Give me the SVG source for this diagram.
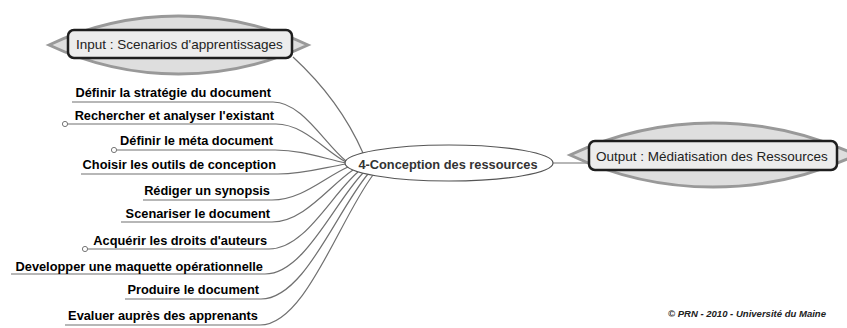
<svg xmlns="http://www.w3.org/2000/svg" width="847" height="328" viewBox="0 0 847 328">
<style>
.bg{fill:#ffffff}
.conn{fill:none;stroke:#707070;stroke-width:1.2}
.lens{fill:#dedede;stroke:#999;stroke-width:3}
.box{fill:#ececec;stroke:#1e1e1e;stroke-width:2.5}
.io{font-family:"Liberation Sans",Arial,sans-serif;font-size:13.5px;fill:#222}
.ctr{fill:#fff;stroke:#555;stroke-width:1.2}
.ctrt{font-family:"Liberation Sans",Arial,sans-serif;font-size:12.8px;font-weight:bold;fill:#333;text-anchor:middle}
.lbl{font-family:"Liberation Sans",Arial,sans-serif;font-size:12.8px;font-weight:bold;fill:#000;text-anchor:end}
.dot{fill:#fff;stroke:#777;stroke-width:1}
.copy{font-family:"Liberation Sans",Arial,sans-serif;font-size:8.5px;font-weight:bold;font-style:italic;fill:#222}
</style>
<rect class="bg" x="0" y="0" width="847" height="328"/>
<g id="connectors">
<path class="conn" d="M293,57 C318,80 345,112 363,153"/>
<path class="conn" d="M553,163 L592,163"/>
<path class="conn" d="M72,102 H273 C302,102 324,143 346,161"/>
<path class="conn" d="M65,124 H276 C304,124 325,151 346,162"/>
<path class="conn" d="M114,150 H275 C303,150 325,159 346,163"/>
<path class="conn" d="M81,174 H278 C305,174 326,167 346,164"/>
<path class="conn" d="M143,200 H272 C302,200 325,177 348,167"/>
<path class="conn" d="M121,222 H272 C304,222 329,186 353,170"/>
<path class="conn" d="M85,249 H269 C305,249 331,195 358,172"/>
<path class="conn" d="M11,274 H265 C304,274 334,203 363,173"/>
<path class="conn" d="M125,299 H261 C304,299 336,212 368,174"/>
<path class="conn" d="M65,325 H260 C305,325 339,220 373,175"/>
</g>
<g id="input">
<path class="lens" d="M49,45 A304,304 0 0 1 308,45 A304,304 0 0 1 49,45 Z"/>
<rect class="box" x="68" y="30" width="224" height="28" rx="6"/>
<text class="io" x="76" y="49">Input : Scenarios d'apprentissages</text>
</g>
<g id="output">
<path class="lens" d="M570,155 A335,335 0 0 1 856,155 A335,335 0 0 1 570,155 Z"/>
<rect class="box" x="589" y="141" width="248" height="29" rx="6"/>
<text class="io" x="596" y="161">Output : Médiatisation des Ressources</text>
</g>
<g id="center">
<ellipse class="ctr" cx="449" cy="163" rx="104" ry="18"/>
<text class="ctrt" x="448" y="168.5">4-Conception des ressources</text>
</g>
<g id="n1"><text class="lbl" x="271" y="97.3">Définir la stratégie du document</text></g>
<g id="n2"><circle class="dot" cx="65" cy="124" r="2.6"/><text class="lbl" x="274" y="119.5">Rechercher et analyser l'existant</text></g>
<g id="n3"><circle class="dot" cx="114" cy="150" r="2.6"/><text class="lbl" x="273" y="145">Définir le méta document</text></g>
<g id="n4"><text class="lbl" x="276" y="169.3">Choisir les outils de conception</text></g>
<g id="n5"><text class="lbl" x="270" y="194.5">Rédiger un synopsis</text></g>
<g id="n6"><text class="lbl" x="270" y="217.5">Scenariser le document</text></g>
<g id="n7"><circle class="dot" cx="85" cy="249" r="2.6"/><text class="lbl" x="267" y="245">Acquérir les droits d'auteurs</text></g>
<g id="n8"><text class="lbl" x="263" y="270.5">Developper une maquette opérationnelle</text></g>
<g id="n9"><text class="lbl" x="259" y="294">Produire le document</text></g>
<g id="n10"><text class="lbl" x="258" y="320">Evaluer auprès des apprenants</text></g>
<text class="copy" x="668" y="317" textLength="158" lengthAdjust="spacingAndGlyphs">© PRN - 2010 - Université du Maine</text>
</svg>
